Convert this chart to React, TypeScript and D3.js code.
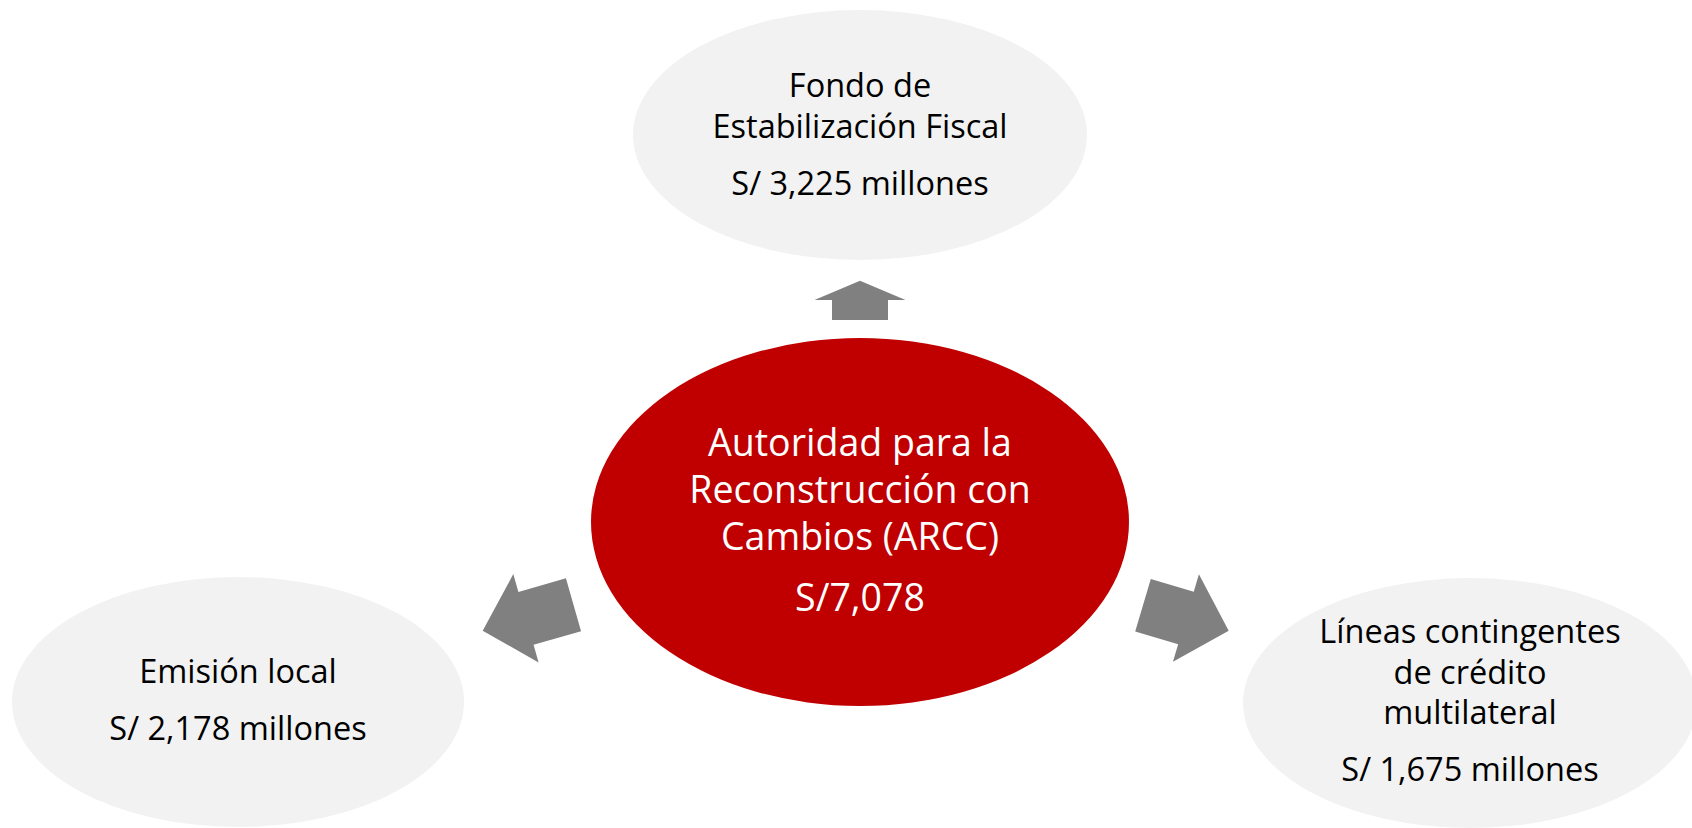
import React, { useEffect, useRef } from 'react';
import * as d3 from 'd3';

// outer nodes: name lines + amount
const nodeNames = [
  ['Fondo de', 'Estabilización Fiscal'],
  ['Emisión local'],
  ['Líneas contingentes', 'de crédito', 'multilateral'],
];
const nodeValues = ['S/ 3,225 millones', 'S/ 2,178 millones', 'S/ 1,675 millones'];

const hubName = ['Autoridad para la', 'Reconstrucción con', 'Cambios (ARCC)'];
const hubValue = 'S/7,078';

const W = 1692;
const H = 828;

// layout of the ellipses (center, radii) and the first baseline of their text
const outerLayout = [
  { cx: 860, cy: 135, rx: 227, ry: 125, y0: 97 },
  { cx: 238, cy: 702, rx: 226, ry: 125, y0: 683 },
  { cx: 1470, cy: 703, rx: 227, ry: 125, y0: 643 },
];
const hubLayout = { cx: 860, cy: 522, rx: 269, ry: 184, y0: 456, yValue: 611 };

// block arrows: shaft-end midpoint, tip, head length, head width, shaft width
const arrows = [
  { bx: 860, by: 320, tx: 860, ty: 280.7, head: 19.3, headW: 91, shaftW: 56 },
  { bx: 573.5, by: 604.7, tx: 482.7, ty: 630.7, head: 45, headW: 92, shaftW: 55 },
  { bx: 1143, by: 605.3, tx: 1228.7, ty: 630.7, head: 44.6, headW: 91.4, shaftW: 54.9 },
];

const FONT = '"Open Sans", Lato, sans-serif';

const arrowPoints = (a) => {
  const dx = a.tx - a.bx;
  const dy = a.ty - a.by;
  const len = Math.hypot(dx, dy);
  const ux = dx / len, uy = dy / len;
  const px = -uy, py = ux;
  const s = len - a.head;
  const local = [
    [0, -a.shaftW / 2], [s, -a.shaftW / 2], [s, -a.headW / 2], [len, 0],
    [s, a.headW / 2], [s, a.shaftW / 2], [0, a.shaftW / 2],
  ];
  return local.map(([u, v]) => [a.bx + u * ux + v * px, a.by + u * uy + v * py]);
};

const App = () => {
  const svgRef = useRef(null);

  useEffect(() => {
    document.body.style.margin = '0';
    const svg = d3.select(svgRef.current);
    svg.selectAll('*').remove();
    svg.attr('width', W).attr('height', H).attr('viewBox', `0 0 ${W} ${H}`);

    const line = d3.line();

    // outer nodes
    outerLayout.forEach((o, i) => {
      svg.append('ellipse')
        .attr('cx', o.cx).attr('cy', o.cy).attr('rx', o.rx).attr('ry', o.ry)
        .attr('fill', '#F2F2F2');
      const g = svg.append('g').attr('font-family', FONT).attr('font-size', 32.5)
        .attr('fill', '#000').attr('text-anchor', 'middle');
      nodeNames[i].forEach((t, j) => {
        g.append('text').attr('x', o.cx).attr('y', o.y0 + j * 40.5).text(t);
      });
      g.append('text')
        .attr('x', o.cx)
        .attr('y', o.y0 + (nodeNames[i].length - 1) * 40.5 + 57)
        .text(nodeValues[i]);
    });

    // hub
    svg.append('ellipse')
      .attr('cx', hubLayout.cx).attr('cy', hubLayout.cy)
      .attr('rx', hubLayout.rx).attr('ry', hubLayout.ry)
      .attr('fill', '#C00000');
    const hg = svg.append('g').attr('font-family', FONT).attr('font-size', 37.5)
      .attr('fill', '#fff').attr('text-anchor', 'middle');
    hubName.forEach((t, j) => {
      hg.append('text').attr('x', hubLayout.cx).attr('y', hubLayout.y0 + j * 47).text(t);
    });
    hg.append('text').attr('x', hubLayout.cx).attr('y', hubLayout.yValue).text(hubValue);

    // arrows
    arrows.forEach((a) => {
      svg.append('path')
        .attr('d', line(arrowPoints(a)) + 'Z')
        .attr('fill', '#808080');
    });
  }, []);

  return <svg ref={svgRef} style={{ display: 'block' }} />;
};

export default App;
